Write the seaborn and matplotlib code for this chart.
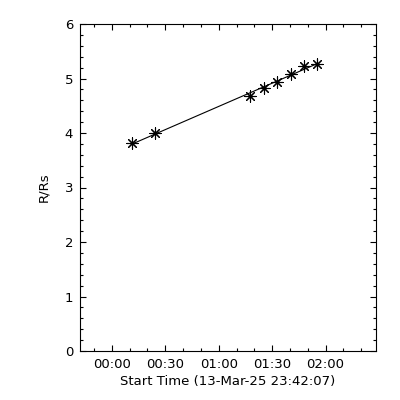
import numpy as np
import pandas as pd
import matplotlib
matplotlib.use("Agg")
import matplotlib.pyplot as plt
import matplotlib.ticker as mticker
import seaborn as sns

# height-time measurements (minutes after 00:00 on 14-Mar-25)
time_min = [11.5, 24.3, 77.5, 85.5, 92.8, 100.5, 108.0, 115.0]
height_rs = [3.81, 4.00, 4.68, 4.82, 4.93, 5.08, 5.23, 5.27]

start_label = "13-Mar-25 23:42:07"
x_start = -17.88
x_end = 148.3

sns.set_theme(style="white")
plt.rcParams['font.family'] = ['DejaVu Sans']

df = pd.DataFrame({"t": time_min, "r": height_rs})

# linear fit over the measured span
coef = np.polyfit(df["t"], df["r"], 1)
fit = pd.DataFrame({"t": [df["t"].min(), df["t"].max()]})
fit["r"] = np.polyval(coef, fit["t"])

fig = plt.figure(figsize=(4, 4), dpi=100)
ax = fig.add_axes([0.2, 0.1225, 0.74, 0.8175])

sns.lineplot(data=fit, x="t", y="r", color="black", linewidth=0.8, ax=ax)
sns.scatterplot(data=df, x="t", y="r", marker=(8, 2, 0), s=65, color="black",
                linewidth=0.8, ax=ax)

ax.set_xlim(x_start, x_end)
ax.set_ylim(0, 6)

def hhmm(v, pos):
    m = int(round(v)) % (24 * 60)
    return f"{m // 60:02d}:{m % 60:02d}"

ax.xaxis.set_major_locator(mticker.MultipleLocator(30))
ax.xaxis.set_minor_locator(mticker.MultipleLocator(10))
ax.xaxis.set_major_formatter(mticker.FuncFormatter(hhmm))
ax.yaxis.set_major_locator(mticker.MultipleLocator(1))
ax.yaxis.set_minor_locator(mticker.MultipleLocator(0.2))

ax.tick_params(which="both", direction="in", top=True, right=True,
               bottom=True, left=True, color="black", width=0.8,
               labelsize=9.5, labelcolor="black", pad=5)
ax.tick_params(which="major", length=4)
ax.tick_params(which="minor", length=2.5)

for s in ax.spines.values():
    s.set_color("black")
    s.set_linewidth(0.8)

ax.set_xlabel(f"Start Time ({start_label})", fontsize=9.5, color="black", labelpad=3)
ax.set_ylabel("R/Rs", fontsize=9.5, color="black", labelpad=10)
ax.grid(False)

fig.savefig("out.png", dpi=100, facecolor="white")
